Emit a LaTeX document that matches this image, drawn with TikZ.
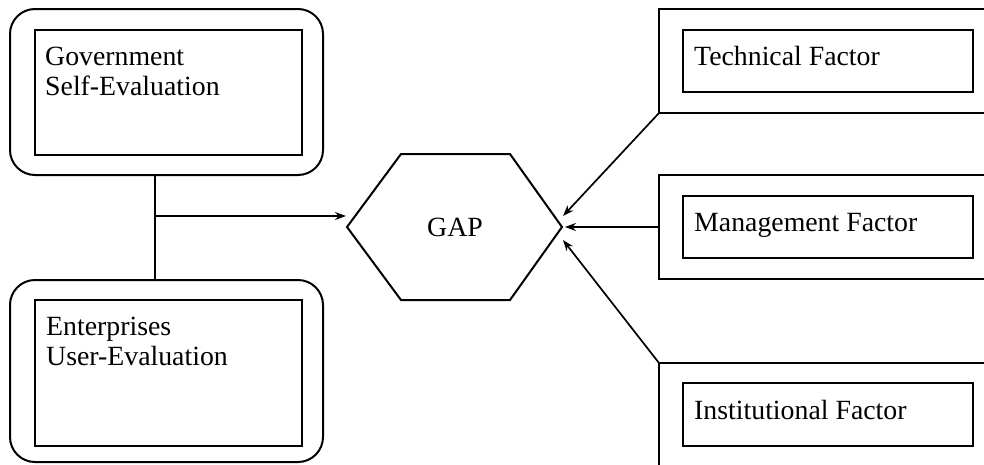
\documentclass[tikz,border=0pt]{standalone}
\usepackage{fontspec}
\setmainfont{Liberation Serif}
\usetikzlibrary{arrows.meta,positioning}
\tikzset{
    frame box/.style={draw, line width=2pt, inner sep=0pt, outer sep=0pt},
    box text/.style={font=\fontsize{27.8}{30}\selectfont, align=left, inner sep=0pt, anchor=base west},
    link/.style={line width=1.7pt},
    feed/.style={line width=1.7pt, -{Stealth[length=11pt,width=8pt]}}
}

\begin{document}
\begin{tikzpicture}[x=1pt,y=-1pt]
    \useasboundingbox (0,0) rectangle (984,464);
    \clip (0,0) rectangle (984,464);
    % evaluation side
    \node[frame box, rounded corners=25pt, minimum width=313pt, minimum height=166pt] (govbox) at (166.5,92) {};
    \node[frame box, minimum width=267pt, minimum height=125pt] (govin) at (168.5,92.5) {};
    \node[box text] (govtext) at (45,95) {Government\\Self-Evaluation};
    \node[frame box, rounded corners=25pt, minimum width=313pt, minimum height=182pt] (entbox) at (166.5,371) {};
    \node[frame box, minimum width=267pt, minimum height=146pt] (entin) at (168.5,373) {};
    \node[box text] (enttext) at (46,365) {Enterprises\\User-Evaluation};
    % the gap
    \node[font=\fontsize{27.8}{30}\selectfont, inner sep=0pt] (gap) at (455,227) {GAP};
    \draw[link, line width=2pt] (347,227) -- (401,154) -- (510,154) -- (562,227) -- (510,300) -- (401,300) -- cycle;
    \coordinate (gapin) at (346,216);
    \coordinate (gapup) at (563,216);
    \coordinate (gapmid) at (565,227);
    \coordinate (gaplow) at (563,240);
    % factor side
    \node[frame box, minimum width=360pt, minimum height=104pt] (techbox) at (839,61) {};
    \node[frame box, minimum width=290pt, minimum height=62pt] (techin) at (828,61) {};
    \node[box text] (techtext) at (694,65) {Technical Factor};
    \node[frame box, minimum width=360pt, minimum height=104pt] (mgmtbox) at (839,227) {};
    \node[frame box, minimum width=290pt, minimum height=62pt] (mgmtin) at (828,227) {};
    \node[box text] (mgmttext) at (694,231) {Management Factor};
    \node[frame box, minimum width=360pt, minimum height=104pt] (instbox) at (839,415) {};
    \node[frame box, minimum width=290pt, minimum height=63pt] (instin) at (828,414.5) {};
    \node[box text] (insttext) at (694,419) {Institutional Factor};
    % connectors
    \coordinate (split) at (155,216);
    \draw[link] (split |- govbox.south) -- (split |- entbox.north);
    \draw[feed] (split) -- (gapin);
    \draw[feed] (techbox.south west) -- (gapup);
    \draw[feed] (mgmtbox.west) -- (gapmid);
    \draw[feed] (instbox.north west) -- (gaplow);
\end{tikzpicture}
\end{document}
